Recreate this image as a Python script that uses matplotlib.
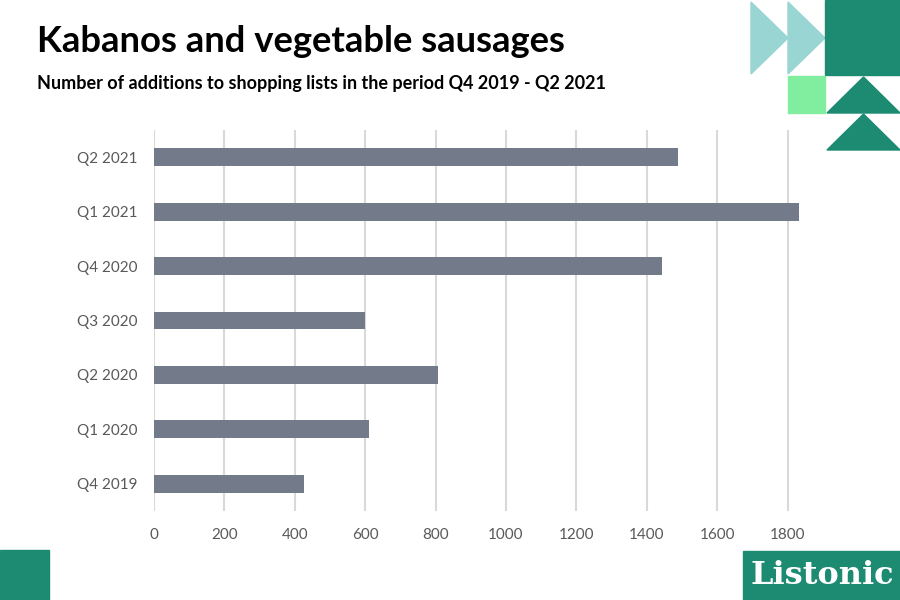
import matplotlib.pyplot as plt
from matplotlib.patches import Rectangle, Polygon

# ----- data -----
quarters = ["Q4 2019", "Q1 2020", "Q2 2020", "Q3 2020", "Q4 2020", "Q1 2021", "Q2 2021"]
additions = [426, 610, 807, 599, 1443, 1832, 1488]
x_ticks = [0, 200, 400, 600, 800, 1000, 1200, 1400, 1600, 1800]

title = "Kabanos and vegetable sausages"
subtitle = "Number of additions to shopping lists in the period Q4 2019 - Q2 2021"

BAR = "#737a8a"
GRID = "#d9d9d9"
LABEL = "#595959"
DARK = "#1d8a72"
TEAL_LIGHT = "#98d5d3"
GREEN_LIGHT = "#80ee9e"

plt.rcParams["font.family"] = ["Lato", "DejaVu Sans"]

fig = plt.figure(figsize=(9, 6), dpi=100)

# ----- decorations (pixel coords overlay) -----
deco = fig.add_axes([0, 0, 1, 1])
deco.set_xlim(0, 900)
deco.set_ylim(600, 0)
deco.axis("off")
deco.add_patch(Polygon([(751, 2), (788, 38), (751, 74)], color=TEAL_LIGHT))
deco.add_patch(Polygon([(788, 2), (825, 38), (788, 74)], color=TEAL_LIGHT))
deco.add_patch(Rectangle((825, 0), 75, 75, color=DARK))
deco.add_patch(Rectangle((788, 76), 37, 37, color=GREEN_LIGHT))
deco.add_patch(Polygon([(827, 113), (863.5, 77), (900, 113)], color=DARK))
deco.add_patch(Polygon([(827, 150), (863.5, 114), (900, 150)], color=DARK))
deco.add_patch(Rectangle((0, 550), 49, 50, color=DARK))
deco.add_patch(Rectangle((743, 551), 157, 49, color=DARK))
deco.text(822, 576, "Listonic", color="white", fontsize=23, fontweight="bold",
          family=["DejaVu Serif"], ha="center", va="center")

# ----- bar chart -----
ax = fig.add_axes([154 / 900, 1 - 511 / 600, (858 - 154) / 900, (511 - 130) / 600])
ax.patch.set_visible(False)
ypos = list(range(len(quarters)))
ax.barh(ypos, additions, height=0.33, color=BAR, zorder=3)
ax.set_yticks(ypos)
ax.set_yticklabels(quarters)
ax.set_xticks(x_ticks)
ax.set_xticklabels([str(t) for t in x_ticks])
ax.set_xlim(0, 2000)
ax.set_ylim(-0.5, 6.5)
for s in ax.spines.values():
    s.set_visible(False)
ax.tick_params(axis="both", length=0, labelsize=11, labelcolor=LABEL)
ax.tick_params(axis="x", pad=12)
ax.tick_params(axis="y", pad=12)
# vertical gridlines only at the labelled ticks
for t in x_ticks:
    ax.axvline(t, color=GRID, linewidth=1.5, zorder=0)

# ----- titles -----
fig.text(37 / 900, 1 - 52 / 600, title, fontsize=26.2, fontweight="bold", color="black")
fig.text(37 / 900, 1 - 89 / 600, subtitle, fontsize=13, fontweight="bold", color="black")

fig.savefig("out.png", dpi=100)
